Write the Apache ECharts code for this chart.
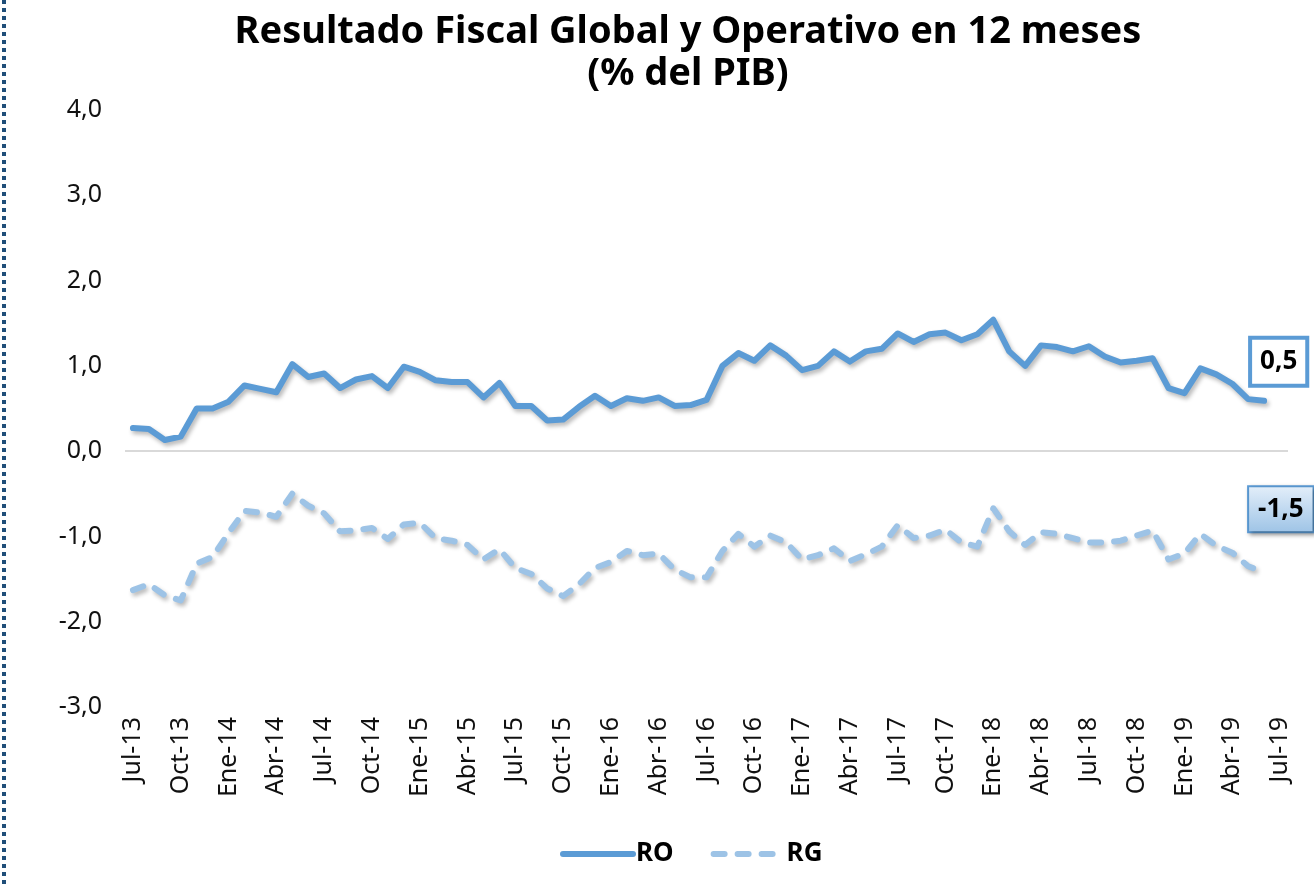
<!DOCTYPE html>
<html>
<head>
<meta charset="utf-8">
<script src="https://cdn.jsdelivr.net/npm/echarts@6/dist/echarts.min.js"></script>
<style>
  html, body { margin: 0; padding: 0; background: #fff; }
  #chart { width: 1314px; height: 887px; }
</style>
</head>
<body>
<div id="chart"></div>
<script>
const chartDom = document.getElementById('chart');
const myChart = echarts.init(chartDom);

// months, Jul-13 .. Jul-19 (last one has no data, only a label)
const months = [
  'Jul-13', 'Ago-13', 'Sep-13', 'Oct-13', 'Nov-13', 'Dic-13',
  'Ene-14', 'Feb-14', 'Mar-14', 'Abr-14', 'May-14', 'Jun-14', 'Jul-14', 'Ago-14', 'Sep-14', 'Oct-14', 'Nov-14', 'Dic-14',
  'Ene-15', 'Feb-15', 'Mar-15', 'Abr-15', 'May-15', 'Jun-15', 'Jul-15', 'Ago-15', 'Sep-15', 'Oct-15', 'Nov-15', 'Dic-15',
  'Ene-16', 'Feb-16', 'Mar-16', 'Abr-16', 'May-16', 'Jun-16', 'Jul-16', 'Ago-16', 'Sep-16', 'Oct-16', 'Nov-16', 'Dic-16',
  'Ene-17', 'Feb-17', 'Mar-17', 'Abr-17', 'May-17', 'Jun-17', 'Jul-17', 'Ago-17', 'Sep-17', 'Oct-17', 'Nov-17', 'Dic-17',
  'Ene-18', 'Feb-18', 'Mar-18', 'Abr-18', 'May-18', 'Jun-18', 'Jul-18', 'Ago-18', 'Sep-18', 'Oct-18', 'Nov-18', 'Dic-18',
  'Ene-19', 'Feb-19', 'Mar-19', 'Abr-19', 'May-19', 'Jun-19', 'Jul-19'
];

// Resultado Operativo, % del PIB
const ro = [
  0.27, 0.26, 0.13, 0.17, 0.50, 0.50, 0.58, 0.77, 0.73, 0.69,
  1.02, 0.87, 0.91, 0.74, 0.84, 0.88, 0.74, 0.99, 0.93, 0.83,
  0.81, 0.81, 0.63, 0.80, 0.53, 0.53, 0.36, 0.37, 0.52, 0.65,
  0.53, 0.62, 0.59, 0.63, 0.53, 0.54, 0.60, 1.00, 1.15, 1.06,
  1.24, 1.12, 0.95, 1.00, 1.17, 1.05, 1.17, 1.20, 1.38, 1.28,
  1.37, 1.39, 1.30, 1.37, 1.54, 1.17, 1.00, 1.24, 1.22, 1.17,
  1.23, 1.11, 1.04, 1.06, 1.09, 0.74, 0.68, 0.97, 0.90, 0.79,
  0.61, 0.59
];

// Resultado Global, % del PIB
const rg = [
  -1.63, -1.56, -1.69, -1.75, -1.32, -1.24, -0.96, -0.70, -0.72, -0.77,
  -0.50, -0.64, -0.73, -0.94, -0.93, -0.90, -1.03, -0.86, -0.84, -1.02,
  -1.05, -1.10, -1.27, -1.15, -1.37, -1.44, -1.61, -1.70, -1.56, -1.37,
  -1.30, -1.17, -1.22, -1.20, -1.39, -1.48, -1.48, -1.17, -0.97, -1.12,
  -0.99, -1.07, -1.27, -1.22, -1.14, -1.29, -1.21, -1.12, -0.87, -1.02,
  -0.99, -0.92, -1.07, -1.12, -0.67, -0.94, -1.10, -0.95, -0.97, -1.02,
  -1.07, -1.07, -1.05, -0.99, -0.93, -1.27, -1.20, -0.97, -1.11, -1.19,
  -1.35, -1.42
];

// the boxed annotations at the end of each line
const roTag = '0,5';
const rgTag = '-1,5';

const font = '"Noto Sans", "DejaVu Sans", sans-serif';
const blueDark = '#5B9BD5';
const blueLight = '#9DC3E6';
const rgDash = [11, 13];

const lineShadow = {
  shadowColor: 'rgba(0, 0, 0, 0.28)',
  shadowBlur: 4,
  shadowOffsetX: 2,
  shadowOffsetY: 3
};

const option = {
  animation: false,
  backgroundColor: '#fff',
  textStyle: { fontFamily: font },
  title: {
    text: 'Resultado Fiscal Global y Operativo en 12 meses\n(% del PIB)',
    left: 683,
    top: 6,
    textAlign: 'center',
    textStyle: {
      fontFamily: font,
      fontSize: 38,
      fontWeight: 'bold',
      lineHeight: 42,
      color: '#000'
    }
  },
  legend: {
    left: 555,
    top: 836,
    itemWidth: 70,
    itemHeight: 14,
    itemGap: 37,
    itemStyle: { opacity: 0 },   // hide the round marker, keep only the line
    textStyle: {
      fontFamily: font,
      fontSize: 26,
      fontWeight: 'bold',
      color: '#000',
      padding: [0, 0, 0, -2]
    },
    data: [
      { name: 'RO', lineStyle: { width: 6, color: blueDark, cap: 'round' } },
      { name: 'RG', lineStyle: { width: 6, color: blueLight, type: rgDash, cap: 'round' } }
    ]
  },
  grid: {
    left: 125,
    right: 26,
    top: 110,
    bottom: 180
  },
  xAxis: {
    type: 'category',
    data: months,
    boundaryGap: true,
    axisLine: { show: false },
    axisTick: { show: false },
    axisLabel: {
      interval: 2,
      rotate: 90,
      margin: 10,
      fontSize: 25,
      color: '#111',
      fontFamily: font
    }
  },
  yAxis: {
    type: 'value',
    min: -3,
    max: 4,
    interval: 1,
    axisLine: { show: false },
    axisTick: { show: false },
    splitLine: { show: false },
    axisLabel: {
      margin: 23,
      fontSize: 25,
      color: '#111',
      fontFamily: font,
      formatter: function (v) {
        return v.toFixed(1).replace('.', ',');
      }
    }
  },
  graphic: [
    {
      // dotted frame line on the left edge
      type: 'line',
      shape: { x1: 4, y1: 0, x2: 4, y2: 887 },
      style: { stroke: '#1F4E79', lineWidth: 4, lineDash: [4, 4] },
      silent: true
    }
  ],
  series: [
    {
      name: 'RO',
      type: 'line',
      data: ro,
      symbol: 'none',
      color: blueDark,
      lineStyle: Object.assign({ width: 6, color: blueDark, cap: 'round', join: 'round' }, lineShadow),
      endLabel: {
        show: true,
        distance: 0,
        offset: [-12, -39],
        formatter: function () { return roTag; },
        fontFamily: font,
        fontSize: 26,
        fontWeight: 'bold',
        color: '#000',
        backgroundColor: '#fff',
        borderColor: blueDark,
        borderWidth: 4,
        padding: [9, 8, 9, 8]
      },
      markLine: {
        silent: true,
        symbol: 'none',
        label: { show: false },
        lineStyle: { color: '#d9d9d9', width: 2, type: 'solid' },
        data: [{ yAxis: 0 }]
      },
      z: 3
    },
    {
      name: 'RG',
      type: 'line',
      data: rg,
      symbol: 'none',
      color: blueLight,
      lineStyle: Object.assign({ width: 6, color: blueLight, type: rgDash, cap: 'round', join: 'round' }, lineShadow),
      endLabel: {
        show: true,
        distance: 0,
        offset: [-15, -63],
        formatter: function () { return rgTag; },
        fontFamily: font,
        fontSize: 26,
        fontWeight: 'bold',
        color: '#000',
        backgroundColor: new echarts.graphic.LinearGradient(0, 0, 0, 1, [
          { offset: 0, color: '#E4EFFA' },
          { offset: 1, color: '#9DC3E6' }
        ]),
        borderColor: blueDark,
        borderWidth: 2,
        padding: [9, 9, 9, 9],
        shadowColor: 'rgba(0, 0, 0, 0.35)',
        shadowBlur: 4,
        shadowOffsetX: 2,
        shadowOffsetY: 2
      },
      z: 2
    }
  ]
};

myChart.setOption(option);
window.onresize = function () {
  myChart.resize();
};
</script>
</body>
</html>
